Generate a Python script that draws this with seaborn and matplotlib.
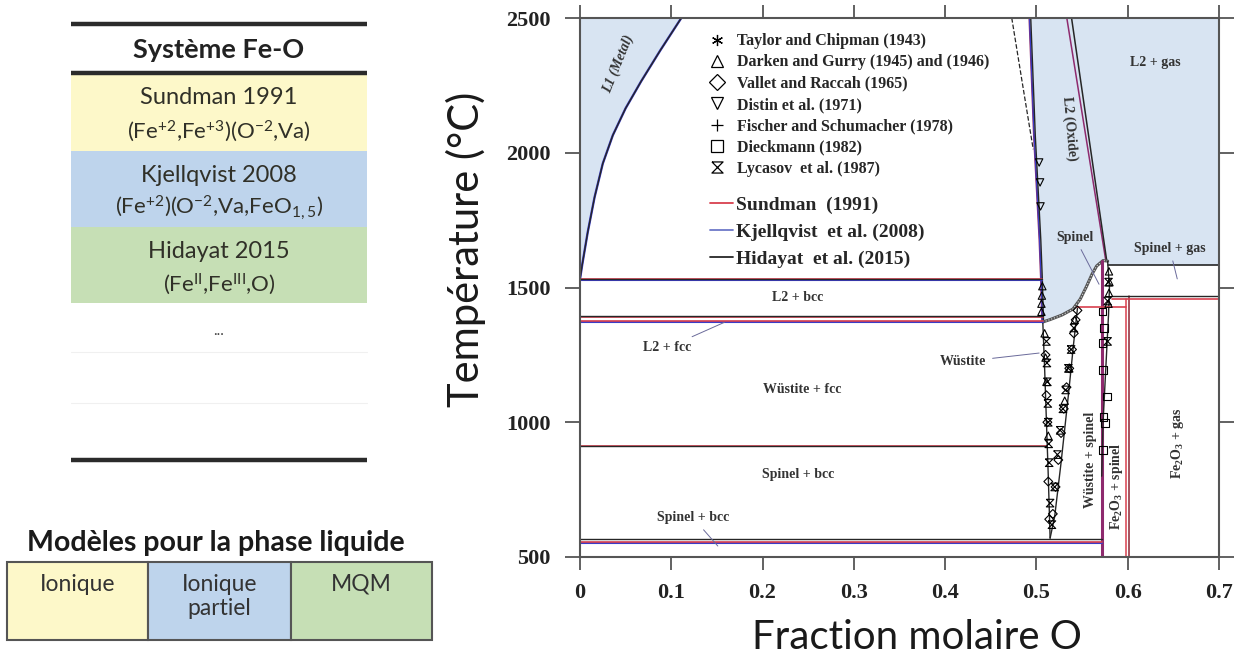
import matplotlib
matplotlib.use("Agg")
import matplotlib.pyplot as plt
from matplotlib.lines import Line2D
from matplotlib.path import Path
from matplotlib.patches import Rectangle
import seaborn as sns

sns.set_style("ticks")
plt.rcParams["font.family"] = ["Liberation Serif", "DejaVu Serif"]
plt.rcParams["mathtext.default"] = "regular"

# ------------------------------------------------------------------ data
x_ticks = [0, 0.1, 0.2, 0.3, 0.4, 0.5, 0.6, 0.7]
x_ticklabels = ["0", "0.1", "0.2", "0.3", "0.4", "0.5", "0.6", "0.7"]
y_ticks = [500, 1000, 1500, 2000, 2500]

# liquidus of L1 (metal)
l1_x = [0.0, 0.0025, 0.0085, 0.016, 0.025, 0.036, 0.050, 0.067, 0.088, 0.111]
l1_T = [1530, 1585, 1705, 1835, 1960, 2065, 2165, 2265, 2380, 2500]
# L2 (oxide) liquidus, Fe side
oxl_x = [0.507, 0.5057, 0.504, 0.498, 0.493]
oxl_T = [1372, 1530, 1678, 2062, 2500]
# L2 liquidus, O side (two models)
oxr_x_hid = [0.577, 0.5385]
oxr_x_sun = [0.576, 0.5333]
oxr_T = [1600, 2500]
# dashed curve
dash_x = [0.473, 0.485, 0.4965]
dash_T = [2500, 2250, 2013]
# spinel liquidus (lower limit of L2)
spl_x = [0.507, 0.515, 0.528, 0.540, 0.548, 0.555, 0.561, 0.566, 0.573, 0.578]
spl_T = [1372, 1381, 1398, 1420, 1457, 1505, 1550, 1580, 1600, 1598]
# L2 + gas lower limit
gas_T = 1583
gas_x = [0.578, 0.7]
# wustite boundaries
wl_x = [0.507, 0.509, 0.511, 0.513, 0.515]
wl_T = [1372, 1200, 1000, 800, 570]
wr_x = [0.545, 0.541, 0.535, 0.527, 0.520, 0.515]
wr_T = [1424, 1300, 1100, 850, 650, 570]
# spinel (magnetite) boundaries
spn_left_x = 0.5715
spn_r_x = [0.578, 0.580, 0.579, 0.576, 0.573, 0.5715]
spn_r_T = [1598, 1500, 1400, 1200, 1000, 800]
# hematite
hem_x_sun, hem_T_sun = 0.598, 1458
hem_x_hid, hem_T_hid = 0.6015, 1470

# invariant temperatures per model: (T, x_start, x_end)
inv_sundman = [(1531, 0, 0.5057), (1391, 0, 0.507), (1374, 0, 0.507),
               (911, 0, 0.511), (556, 0, 0.5715), (1428, 0.544, 0.598),
               (1458, 0.583, 0.7)]
inv_kjellqvist = [(1529, 0, 0.5057), (1372, 0, 0.507), (552, 0, 0.5715)]
inv_hidayat = [(1530, 0, 0.5057), (1393, 0, 0.507), (913, 0, 0.511),
               (567, 0, 0.5715), (1470, 0.583, 0.7)]

# experimental data
taylor_x = [0.060, 0.049, 0.0457, 0.041, 0.029, 0.036, 0.512, 0.517, 0.521,
            0.511, 0.528]
taylor_T = [2050, 2031, 2002, 1968, 1969, 1925, 1000, 700, 900,
            1120, 1010]
darken_x = [0.5055, 0.5055, 0.506, 0.5065, 0.579, 0.5795, 0.580, 0.5795,
            0.509, 0.511, 0.513, 0.542, 0.536, 0.510, 0.531]
darken_T = [1410, 1440, 1470, 1505, 1440, 1480, 1520, 1560,
            1330, 1150, 950, 1380, 1200, 1240, 1080]
vallet_x = [0.545, 0.543, 0.541, 0.539, 0.536, 0.533, 0.530, 0.527, 0.524,
            0.521, 0.518, 0.510, 0.512, 0.514, 0.511, 0.513]
vallet_T = [1415, 1380, 1330, 1270, 1200, 1130, 1050, 960, 860,
            760, 660, 1250, 1000, 640, 1100, 780]
distin_x = [0.503, 0.504, 0.5045]
distin_T = [1964, 1890, 1801]
fischer_x = [0.0018, 0.0035, 0.0055, 0.0073, 0.0088, 0.011, 0.0128, 0.0164,
             0.0197, 0.024, 0.030, 0.0347,
             0.514, 0.5135, 0.513, 0.5125, 0.512, 0.5115, 0.511, 0.5105, 0.510,
             0.5095, 0.509, 0.5085, 0.508,
             0.518, 0.520, 0.522, 0.524, 0.526, 0.528, 0.530, 0.532, 0.534,
             0.536, 0.538, 0.540]
fischer_T = [1556, 1593, 1630, 1678, 1715, 1752, 1802, 1853,
             1883, 1930, 1905, 1895,
             610, 660, 720, 780, 840, 900, 960, 1020, 1080,
             1140, 1200, 1260, 1320,
             620, 680, 740, 800, 860, 920, 980, 1040, 1100,
             1160, 1220, 1290]
dieck_x = [0.5775, 0.575, 0.573, 0.5725, 0.5725, 0.573, 0.5735, 0.574]
dieck_T = [1096, 998, 898, 1411, 1295, 1195, 1020, 1350]
lyc_x = [0.511, 0.5115, 0.512, 0.5125, 0.513, 0.5135, 0.514, 0.515,
         0.541, 0.538, 0.535, 0.532, 0.529, 0.526, 0.523, 0.520, 0.517,
         0.578, 0.579, 0.578]
lyc_T = [1300, 1220, 1150, 1070, 1000, 920, 850, 700,
         1350, 1270, 1200, 1120, 1050, 970, 880, 760, 620,
         1450, 1520, 1300]

exp_labels = ["Taylor and Chipman (1943)", "Darken and Gurry (1945) and (1946)",
              "Vallet and Raccah (1965)", "Distin et al. (1971)",
              "Fischer and Schumacher (1978)", "Dieckmann (1982)",
              "Lycasov  et al. (1987)"]
model_labels = ["Sundman  (1991)", "Kjellqvist  et al. (2008)",
                "Hidayat  et al. (2015)"]

table_title = "Système Fe-O"
table_names = ["Sundman 1991", "Kjellqvist 2008", "Hidayat 2015"]
table_formulas = ["(Fe$^{+2}$,Fe$^{+3}$)(O$^{-2}$,Va)",
                  "(Fe$^{+2}$)(O$^{-2}$,Va,FeO$_{1,5}$)",
                  "(Fe$^{II}$,Fe$^{III}$,O)"]
liq_title = "Modèles pour la phase liquide"
liq_models = ["Ionique", "Ionique\npartiel", "MQM"]

# ------------------------------------------------------------------ style
RED = "#D8404E"
BLUE = "#3A3CC8"
BLACK = "#262626"
PURPLE = "#8E2A6E"
FILL = "#D8E4F2"
YEL = "#FDF8C9"
BLU = "#BED4EC"
GRN = "#C6DFB5"
SANS = "Lato"
SERIF = "Liberation Serif"

fig = plt.figure(figsize=(12.44, 6.58), dpi=100)

# ---------------- left tables (overlay in pixel coordinates)
axo = fig.add_axes([0, 0, 1, 1])
axo.set_xlim(0, 1244)
axo.set_ylim(658, 0)
axo.axis("off")

for y in [24, 73, 460]:
    axo.plot([71, 367], [y, y], color="#2b2b2b", lw=3.2, solid_capstyle="butt")
axo.text(219, 50, table_title, ha="center", va="center", family=SANS,
         weight="bold", fontsize=19.5, color="#222222")
bands = [(74, 151, YEL), (151, 227, BLU), (227, 303, GRN)]
for (y0, y1, c), name, form in zip(bands, table_names, table_formulas):
    axo.add_patch(Rectangle((71, y0), 296, y1 - y0, color=c, lw=0))
    axo.text(219, y0 + 24, name, ha="center", va="center", family=SANS,
             fontsize=17, color="#303028")
    axo.text(219, y0 + 57, form, ha="center", va="center", family=SANS,
             fontsize=16, color="#303028")
axo.text(219, 331, "...", ha="center", va="center", family=SANS,
         fontsize=11, color="#444444")
for y in [352, 403]:
    axo.plot([71, 367], [y, y], color="#F0F0F0", lw=0.8)

axo.text(216, 543, liq_title, ha="center", va="center", family=SANS,
         weight="bold", fontsize=20.5, color="#1a1a1a")
cells = [(7, 148, YEL), (148, 291, BLU), (291, 432, GRN)]
for (x0, x1, c), lab in zip(cells, liq_models):
    axo.add_patch(Rectangle((x0, 562), x1 - x0, 78, facecolor=c,
                            edgecolor="#555555", lw=1.5))
    axo.text((x0 + x1) / 2, 574, lab, ha="center", va="top", family=SANS,
             fontsize=16.5, color="#333333", linespacing=1.15)

# ---------------- phase diagram
ax = fig.add_axes([0.4662, 0.1535, 0.5137, 0.8191])
ax.set_xlim(0, 0.7)
ax.set_ylim(500, 2500)

# filled liquid regions
ax.fill_betweenx(l1_T, 0, l1_x, color=FILL, lw=0, zorder=0)
poly_x = oxl_x + [0.7, 0.7] + gas_x[::-1] + spl_x[::-1]
poly_T = oxl_T + [2500, gas_T, gas_T] + [gas_T] + spl_T[::-1]
ax.fill(poly_x, poly_T, color=FILL, lw=0, zorder=0)


def curve(x, y, color, lw=1.3, ls="-", z=2):
    sns.lineplot(x=x, y=y, sort=False, estimator=None, color=color, lw=lw,
                 ls=ls, ax=ax, zorder=z, legend=False)


# model lines
curve(l1_x, l1_T, BLUE, 1.7)
curve(l1_x, l1_T, BLACK, 1.0)
for x_off, c in [(-0.0010, PURPLE), (-0.0004, BLUE), (0.0008, BLACK)]:
    curve([v + x_off for v in oxl_x], oxl_T, c, 1.0)
curve(oxr_x_sun, oxr_T, PURPLE, 1.1)
curve(oxr_x_hid, oxr_T, BLACK, 1.1)
curve(dash_x, dash_T, BLACK, 0.9, "--")
curve(spl_x, spl_T, "#555555", 2.2)
curve(spl_x, spl_T, "#DDDDDD", 0.8, ":")
curve(gas_x, [gas_T, gas_T], BLACK, 1.2)
curve(wl_x, wl_T, BLACK, 1.0)
curve(wr_x, wr_T, BLACK, 1.0)
curve([spn_left_x, spn_left_x], [500, 1600], PURPLE, 2.2)
curve(spn_r_x, spn_r_T, BLACK, 1.0)
curve([hem_x_sun, hem_x_sun], [500, hem_T_sun], RED, 1.1)
curve([hem_x_hid, hem_x_hid], [500, hem_T_hid], "#8B2533", 1.1)
for T, x0, x1 in inv_kjellqvist:
    curve([x0, x1], [T, T], BLUE, 1.5)
for T, x0, x1 in inv_sundman:
    curve([x0, x1], [T, T], RED, 1.2)
for T, x0, x1 in inv_hidayat:
    curve([x0, x1], [T, T], BLACK, 1.0)

# experimental markers
hourglass = Path([(-1, 1), (1, 1), (-1, -1), (1, -1), (-1, 1)],
                 [Path.MOVETO, Path.LINETO, Path.LINETO, Path.LINETO, Path.LINETO])
asterisk = (6, 2, 0)
exp_sets = [
    (taylor_x, taylor_T, asterisk, 40),
    (darken_x, darken_T, "^", 28),
    (vallet_x, vallet_T, "D", 20),
    (distin_x, distin_T, "v", 28),
    (fischer_x, fischer_T, "+", 45),
    (dieck_x, dieck_T, "s", 30),
    (lyc_x, lyc_T, hourglass, 30),
]
for xs, ts, m, s in exp_sets:
    sns.scatterplot(x=xs, y=ts, marker=m, s=s, color="k", facecolor="none",
                    edgecolor="k", linewidth=0.8, ax=ax, zorder=4, legend=False)

# region labels
lab_kw = dict(family=SERIF, fontsize=10, weight="bold", color="#333333",
              ha="center", va="center", zorder=5)
ax.text(0.042, 2330, "L1 (Metal)", rotation=68, style="italic", **lab_kw)
ax.text(0.536, 2090, "L2 (Oxide)", rotation=-85, **lab_kw)
ax.text(0.630, 2336, "L2 + gas", **lab_kw)
ax.text(0.238, 1463, "L2 + bcc", **lab_kw)
ax.text(0.243, 1121, "Wüstite + fcc", **lab_kw)
ax.text(0.239, 805, "Spinel + bcc", **lab_kw)
ax.text(0.5587, 860, "Wüstite + spinel", rotation=90, **lab_kw)
ax.text(0.588, 761, "Fe$_2$O$_3$ + spinel", rotation=90, **lab_kw)
ax.text(0.655, 924, "Fe$_2$O$_3$ + gas", rotation=90, **lab_kw)
arrow = dict(arrowstyle="-", color="#6a6a9a", lw=0.7)
ax.annotate("Spinel", xy=(0.570, 1503), xytext=(0.542, 1686),
            arrowprops=arrow, **lab_kw)
ax.annotate("Spinel + gas", xy=(0.655, 1522), xytext=(0.646, 1645),
            arrowprops=arrow, **lab_kw)
ax.annotate("L2 + fcc", xy=(0.161, 1375), xytext=(0.096, 1277),
            arrowprops=arrow, **lab_kw)
ax.annotate("Spinel + bcc", xy=(0.153, 533), xytext=(0.124, 645),
            arrowprops=arrow, **lab_kw)
ax.annotate("Wüstite", xy=(0.506, 1258), xytext=(0.42, 1225),
            arrowprops=arrow, **lab_kw)

# legends
exp_handles = [Line2D([], [], ls="none", marker=m, ms=8, mfc="none", mec="k",
                      mew=0.9, color="k") for _, _, m, _ in exp_sets]
leg1 = ax.legend(exp_handles, exp_labels, loc="upper left",
                 bbox_to_anchor=(0.1988, 0.972), frameon=False,
                 prop=dict(family=SERIF, weight="bold", size=11.5),
                 handlelength=1.2, handletextpad=0.69, labelspacing=0.33,
                 borderpad=0, borderaxespad=0)
ax.add_artist(leg1)
mod_handles = [Line2D([], [], color=c, lw=1.3) for c in (RED, "#6D78C8", BLACK)]
ax.legend(mod_handles, model_labels, loc="upper left",
          bbox_to_anchor=(0.2034, 0.669), frameon=False,
          prop=dict(family=SERIF, weight="bold", size=14),
          handlelength=1.19, handletextpad=0.15, labelspacing=0.47,
          borderpad=0, borderaxespad=0)

# axes styling
ax.set_xticks(x_ticks)
ax.set_xticklabels(x_ticklabels)
ax.set_yticks(y_ticks)
for sp in ax.spines.values():
    sp.set_visible(True)
    sp.set_color("#555555")
    sp.set_linewidth(1.5)
ax.tick_params(direction="out", top=True, right=True, width=1.3,
               color="#555555", labelcolor="#222222")
ax.tick_params(axis="y", length=11, pad=10)
ax.tick_params(axis="x", length=9.5, pad=9)
for t in ax.get_xticklabels() + ax.get_yticklabels():
    t.set_fontfamily(SERIF)
    t.set_fontweight("bold")
    t.set_fontsize(16)

ax.set_xlabel("Fraction molaire O", family=SANS, fontsize=29, color="#1a1a1a")
ax.set_ylabel("Température (°C)", family=SANS, fontsize=30, color="#1a1a1a")
ax.xaxis.set_label_coords(0.528, -0.115)
ax.yaxis.set_label_coords(-0.147, 0.57)

fig.savefig("out.png", dpi=100)
